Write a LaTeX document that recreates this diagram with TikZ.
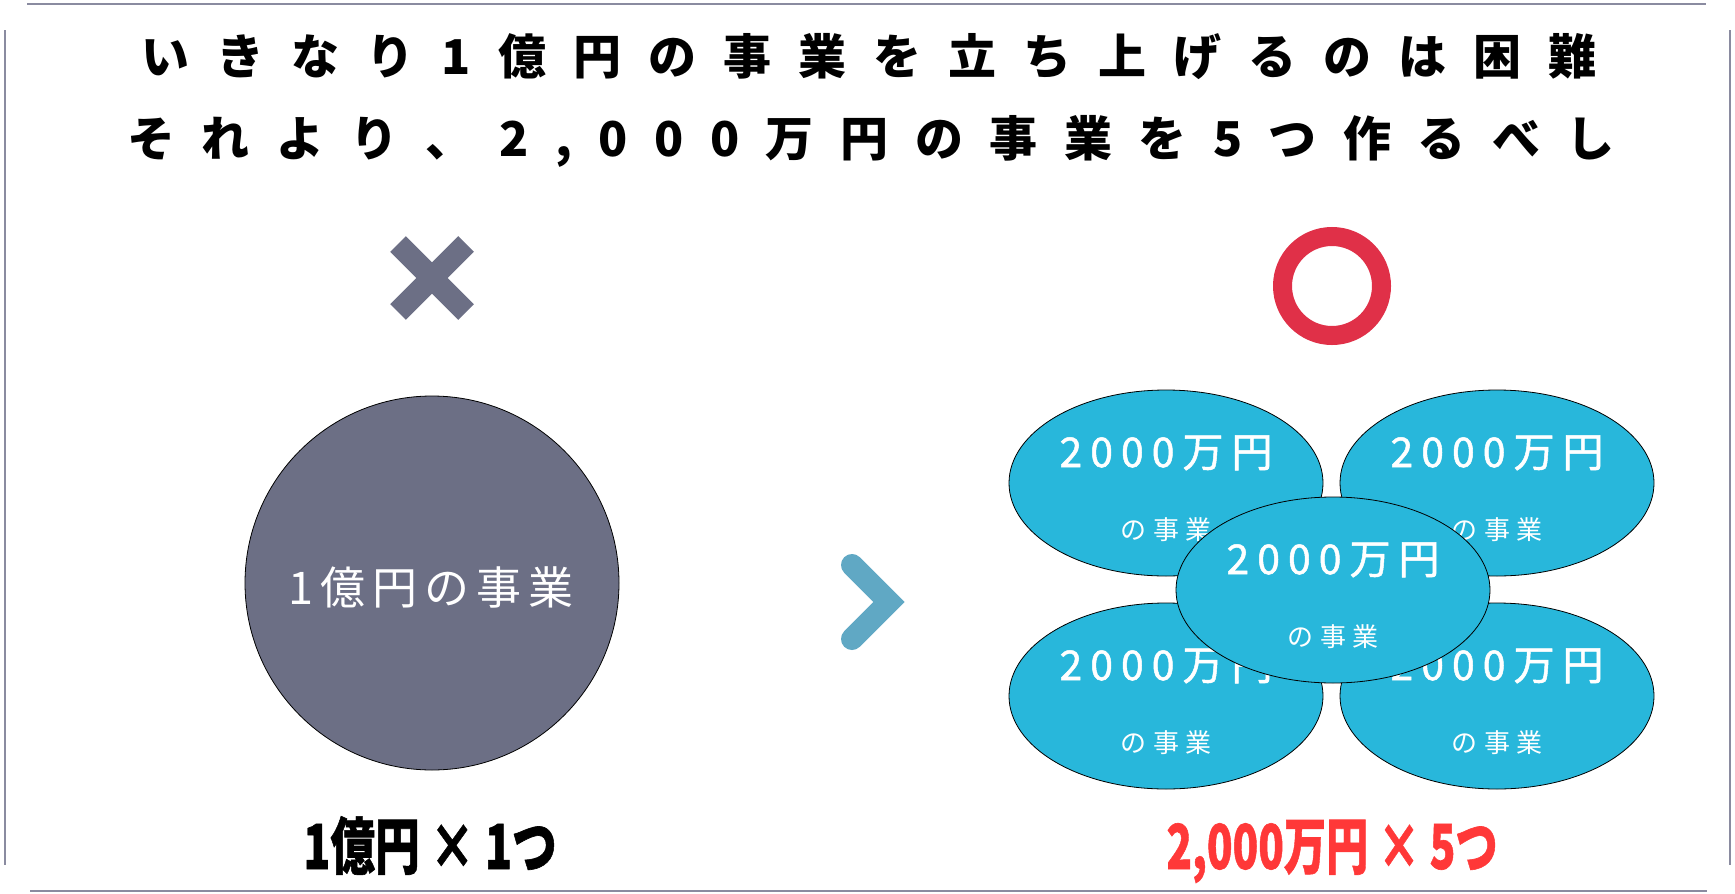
\documentclass[tikz,border=0pt]{standalone}
\usepackage{fontspec}
\usepackage{graphicx}
\setmainfont{Noto Sans CJK JP}
\usetikzlibrary{shapes.geometric,calc}
\definecolor{framegray}{RGB}{138,139,160}
\definecolor{slate}{RGB}{108,111,133}
\definecolor{ored}{RGB}{224,48,72}
\definecolor{chevblue}{RGB}{96,168,196}
\definecolor{blobblue}{RGB}{40,183,219}
\definecolor{resred}{RGB}{255,56,56}
\makeatletter
\newcommand\trk[2]{\begingroup\def\trk@sep{}\@tfor\trk@c:=#2\do{\trk@sep\trk@c\def\trk@sep{\hspace*{#1}}}\endgroup}
\makeatother
\tikzset{
  frameline/.style={draw=framegray, line width=2.5pt},
  titleline/.style={anchor=base, inner sep=0pt, font=\bfseries\fontsize{48}{58}\selectfont},
  bigcircle/.style={circle, draw=black, line width=0.8pt, fill=slate, minimum size=374pt, inner sep=0pt},
  bigtxt/.style={anchor=base, inner sep=0pt, text=white, font=\fontsize{45}{54}\selectfont},
  blob/.style={ellipse, draw=black, line width=0.8pt, fill=blobblue, minimum width=314pt, minimum height=186pt, inner sep=0pt},
  blobtop/.style={anchor=base, inner sep=0pt, text=white, font=\fontsize{41}{48}\selectfont\addfontfeature{FakeBold=1.2}},
  blobbot/.style={anchor=base, inner sep=0pt, text=white, font=\fontsize{26}{32}\selectfont},
  resultlabel/.style={anchor=base, inner sep=0pt, font=\bfseries\fontsize{62}{74}\selectfont\addfontfeature{FakeBold=1}},
  xmark/.style={draw=slate, line width=22pt, line cap=butt},
  omark/.style={draw=ored, line width=19pt},
  chev/.style={draw=chevblue, line width=22pt, line cap=round, line join=miter},
}
\newcommand\blobat[2]{%
  \node[blob] (#1) at (#2) {};
  \node[blobtop] (#1a) at ($(#1.center)+(0,-16)$) {\trk{8pt}{2000万円}};
  \node[blobbot] (#1b) at ($(#1.center)+(0,56)$) {\trk{6.5pt}{の事業}};
}
\begin{document}
\begin{tikzpicture}[x=1pt,y=-1pt]
\useasboundingbox (0,0) rectangle (1735,894);
\fill[white] (0,0) rectangle (1735,894);
% frame
\draw[frameline] (27,4) -- (1706,4);
\draw[frameline] (30,891) -- (1707,891);
\draw[frameline] (5,30) -- (5,865);
\draw[frameline] (1730,30) -- (1730,865);
% title
\node[titleline] (t1) at (869,74) {\trk{27pt}{いきなり1億円の事業を立ち上げるのは困難}};
\node[titleline] (t2) at (871,156) {\trk{26.5pt}{それより、2,000万円の事業を5つ作るべし}};
% marks
\draw[xmark] (398,244) -- (466,312);
\draw[xmark] (466,244) -- (398,312);
\draw[omark] (1332,286) circle[radius=49.5];
% left circle
\node[bigcircle] (big) at (432,583) {};
\node[bigtxt] (bigt) at (431,604) {\trk{7pt}{1億円の事業}};
% chevron
\draw[chev] (852,565) -- (889,602) -- (852,639);
% ellipses
\blobat{tl}{1166,483}
\blobat{tr}{1497,483}
\blobat{bl}{1166,696}
\blobat{br}{1497,696}
\blobat{cc}{1333,590}
% results
\node[resultlabel] (r1) at (430,869) {\scalebox{0.72}[1]{1億円 × 1つ}};
\node[resultlabel, text=resred] (r2) at (1332,869) {\scalebox{0.68}[1]{2,000万円 × 5つ}};
\end{tikzpicture}
\end{document}
